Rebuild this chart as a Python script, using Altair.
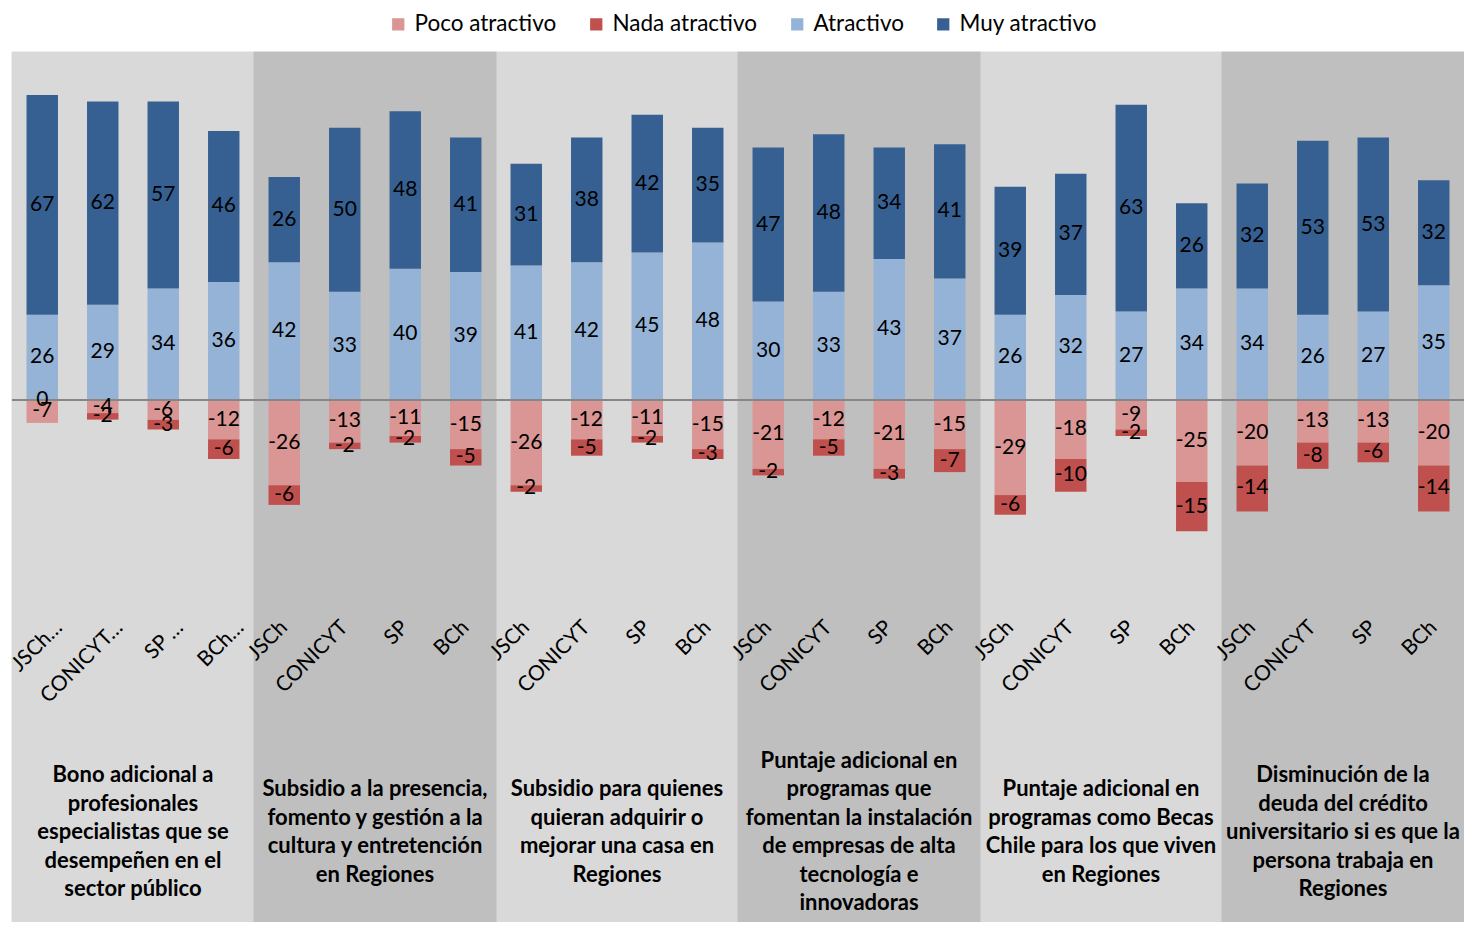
import altair as alt
import pandas as pd

group_titles = [
    "Bono adicional a\nprofesionales\nespecialistas que se\ndesempeñen en el\nsector público",
    "Subsidio a la presencia,\nfomento y gestión a la\ncultura y entretención\nen Regiones",
    "Subsidio para quienes\nquieran adquirir o\nmejorar una casa en\nRegiones",
    "Puntaje adicional en\nprogramas que\nfomentan la instalación\nde empresas de alta\ntecnología e\ninnovadoras",
    "Puntaje adicional en\nprogramas como Becas\nChile para los que viven\nen Regiones",
    "Disminución de la\ndeuda del crédito\nuniversitario si es que la\npersona trabaja en\nRegiones",
]
cats_first = ["JSCh…", "CONICYT…", "SP …", "BCh…"]
cats = ["JSCh", "CONICYT", "SP", "BCh"]
series = ["Poco atractivo", "Nada atractivo", "Atractivo", "Muy atractivo"]
colors = ["#D99694", "#C0504D", "#95B3D7", "#376092"]

atractivo = [26, 29, 34, 36, 42, 33, 40, 39, 41, 42, 45, 48, 30, 33, 43, 37, 26, 32, 27, 34, 34, 26, 27, 35]
muy = [67, 62, 57, 46, 26, 50, 48, 41, 31, 38, 42, 35, 47, 48, 34, 41, 39, 37, 63, 26, 32, 53, 53, 32]
poco = [-7, -4, -6, -12, -26, -13, -11, -15, -26, -12, -11, -15, -21, -12, -21, -15, -29, -18, -9, -25, -20, -13, -13, -20]
nada = [0, -2, -3, -6, -6, -2, -2, -5, -2, -5, -2, -3, -2, -5, -3, -7, -6, -10, -2, -15, -14, -8, -6, -14]
zero_note = [0]  # stray "0" label on the first bar

FONT = "Lato"
W = 1452
H = 548
PT = 44
PB = 322
BG_H = H + PB  # background reaches the bottom of the chart
LINE_H = 28.5

keys = []
for g in range(6):
    for c in range(4):
        lab = cats_first[c] if g == 0 else cats[c]
        keys.append(f"{g}|{lab}")

rows = []
order = {"Poco atractivo": 0, "Atractivo": 1, "Nada atractivo": 2, "Muy atractivo": 3}
for i, k in enumerate(keys):
    for s, vals in zip(series, [poco, nada, atractivo, muy]):
        rows.append({"key": k, "serie": s, "value": vals[i], "ord": order[s]})
df = pd.DataFrame(rows)

bg = pd.DataFrame({"key": keys, "shade": [(i // 4) % 2 for i in range(24)]})
titles = pd.DataFrame({"key": [keys[g * 4 + 1] for g in range(6)], "title": group_titles})
zero_df = pd.DataFrame({"key": [keys[0]], "value": zero_note})

xscale = alt.Scale(domain=keys, paddingInner=0, paddingOuter=0)
xenc = alt.X("key:N", scale=xscale, sort=keys, title=None,
             axis=alt.Axis(labelExpr="split(datum.label, '|')[1]", labelAngle=-45,
                           labelAlign="right", labelBaseline="middle", labelPadding=24,
                           labelOffset={"condition": {"test": "indexof(datum.value, '0|') == 0", "value": 17}, "value": 0},
                           labelFontSize=21, labelFont=FONT, labelColor="black",
                           ticks=False, domain=False, zindex=1, labelOverlap=False,
                           labelLimit=200))
yscale = alt.Scale(domain=[-61.0, 106.1], nice=False, zero=False)

bg_light = alt.Chart(bg).transform_filter("datum.shade == 0").mark_rect(
    color="#D9D9D9", stroke="#D9D9D9", strokeWidth=1).encode(
    x=xenc, y=alt.value(0), y2=alt.value(BG_H))
bg_dark = alt.Chart(bg).transform_filter("datum.shade == 1").mark_rect(
    color="#BFBFBF", stroke="#BFBFBF", strokeWidth=1).encode(
    x=alt.X("key:N", sort=keys), y=alt.value(0), y2=alt.value(BG_H))

base = alt.Chart(df).transform_stack(
    stack="value", groupby=["key"], sort=[alt.SortField("ord", order="ascending")],
    as_=["v0", "v1"], offset="zero"
).transform_calculate(mid="(datum.v0 + datum.v1) / 2", lab="'' + datum.value")

bars = base.mark_bar(width=alt.RelativeBandSize(0.52)).encode(
    x=alt.X("key:N", sort=keys),
    y=alt.Y("v0:Q", scale=yscale, axis=None),
    y2="v1:Q",
    color=alt.Color("serie:N", scale=alt.Scale(domain=series, range=colors),
                    legend=alt.Legend(title=None, orient="none", legendX=375, legendY=-39,
                                      direction="horizontal", symbolType="square",
                                      symbolSize=150, symbolStrokeWidth=0,
                                      labelFontSize=22.5, labelFont=FONT, labelColor="black",
                                      columnPadding=28, labelOffset=5)),
)

labels = base.transform_filter("datum.value != 0").mark_text(
    fontSize=21, font=FONT, color="black", baseline="middle").encode(
    x=alt.X("key:N", sort=keys), y=alt.Y("mid:Q", scale=yscale), text="lab:N")

zero_txt = alt.Chart(zero_df).transform_calculate(lab="'' + datum.value").mark_text(
    fontSize=21, font=FONT, color="black", baseline="middle").encode(
    x=alt.X("key:N", sort=keys), y=alt.Y("value:Q", scale=yscale), text="lab:N")

zero_line = alt.Chart(zero_df).mark_rule(color="#868686", strokeWidth=2).encode(
    y=alt.Y("value:Q", scale=yscale), x=alt.value(0), x2=alt.value(W))

title_txt = alt.Chart(titles).transform_calculate(
    off=f"-(length(split(datum.title, '\\n')) - 1) * {LINE_H / 2}"
).mark_text(
    fontSize=22, font=FONT, fontWeight="bold", color="black", align="center",
    baseline="middle", lineBreak="\n", lineHeight=LINE_H, dx=W / 48).encode(
    x=alt.X("key:N", sort=keys), y=alt.value(780),
    yOffset=alt.YOffset("off:Q", scale=None), text="title:N")

chart = alt.layer(bg_light, bg_dark, bars, zero_line, labels, zero_txt, title_txt).properties(
    width=W, height=H, padding={"left": 4, "top": PT, "right": 0, "bottom": PB},
    autosize=alt.AutoSizeParams(type="none")
).configure_view(stroke=None).configure(background="white")

chart.save("out.html", embed_options={"renderer": "svg", "actions": False})
